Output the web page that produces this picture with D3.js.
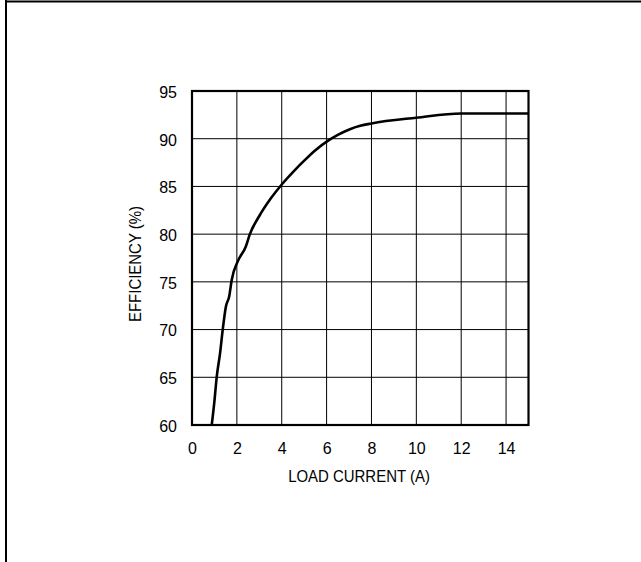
<!DOCTYPE html>
<html>
<head>
<meta charset="utf-8">
<script src="https://cdn.jsdelivr.net/npm/d3@7"></script>
<style>
  html, body { margin: 0; padding: 0; background: #fff; }
  svg { display: block; }
  text { font-family: "Liberation Sans", Arial, sans-serif; fill: #000; }
</style>
</head>
<body>
<svg id="chart" width="641" height="562"></svg>
<script>
// Data
const loadCurrent = [0.88, 1.0, 1.1, 1.25, 1.37, 1.51, 1.66, 1.77, 2.05, 2.4, 2.58, 3.0, 3.5, 4.0, 4.5, 5.0, 5.5, 6.07, 6.5, 7.04, 7.5, 8, 10, 12, 15];
const efficiency  = [60, 62.5, 65, 67.5, 70, 72.4, 73.5, 75.2, 77.2, 78.7, 80, 81.9, 83.7, 85.2, 86.5, 87.7, 88.8, 89.8, 90.4, 91.0, 91.35, 91.6, 92.2, 92.65, 92.65];
const xTicks = [0, 2, 4, 6, 8, 10, 12, 14];
const yTicks = [60, 65, 70, 75, 80, 85, 90, 95];
const xTitle = "LOAD CURRENT (A)";
const yTitle = "EFFICIENCY (%)";

(function () {
const svg = d3.select("#chart");
const pL = 192, pR = 528.5, pT = 91, pB = 425;

const x = d3.scaleLinear().domain([0, 15]).range([pL, pR]);
const y = d3.scaleLinear().domain([60, 95]).range([pB, pT]);

// page frame (top and left edges)
svg.append("line").attr("x1", 5).attr("x2", 641).attr("y1", 1.5).attr("y2", 1.5)
  .attr("stroke", "#000").attr("stroke-width", 2);
svg.append("line").attr("x1", 6).attr("x2", 6).attr("y1", 0).attr("y2", 562)
  .attr("stroke", "#000").attr("stroke-width", 2);

// grid
const g = svg.append("g");
g.selectAll(".vg").data(xTicks.filter(d => d > 0)).join("line")
  .attr("x1", d => x(d)).attr("x2", d => x(d)).attr("y1", pT).attr("y2", pB)
  .attr("stroke", "#000").attr("stroke-width", 1);
g.selectAll(".hg").data(yTicks.filter(d => d > 60 && d < 95)).join("line")
  .attr("x1", pL).attr("x2", pR).attr("y1", d => y(d)).attr("y2", d => y(d))
  .attr("stroke", "#000").attr("stroke-width", 1);

// plot frame
svg.append("rect").attr("x", pL).attr("y", pT).attr("width", pR - pL).attr("height", pB - pT)
  .attr("fill", "none").attr("stroke", "#000").attr("stroke-width", 2.2);

// axes labels via d3 axes (no lines)
const xAxis = svg.append("g").attr("transform", `translate(0,${pB})`)
  .call(d3.axisBottom(x).tickValues(xTicks).tickSize(0).tickPadding(0).tickFormat(d3.format("d")));
xAxis.select(".domain").remove();
xAxis.selectAll("text").attr("dy", null).attr("y", 29).style("font-size", "16px");
xAxis.attr("font-family", null).attr("font-size", null);

const yAxis = svg.append("g").attr("transform", `translate(${pL},0)`)
  .call(d3.axisLeft(y).tickValues(yTicks).tickSize(0).tickPadding(0).tickFormat(d3.format("d")));
yAxis.select(".domain").remove();
yAxis.selectAll("text").attr("x", -15).attr("dy", "0.4em").style("font-size", "16px");
yAxis.attr("font-family", null).attr("font-size", null);

// curve
const pts = loadCurrent.map((v, i) => [v, efficiency[i]]);
svg.append("path").datum(pts)
  .attr("fill", "none").attr("stroke", "#000").attr("stroke-width", 2.6)
  .attr("stroke-linejoin", "round")
  .attr("d", d3.line().x(d => x(d[0])).y(d => y(d[1])).curve(d3.curveMonotoneX));

// titles
svg.append("text").attr("transform", "translate(359,482) scale(0.88,1)")
  .attr("text-anchor", "middle").style("font-size", "17px").text(xTitle);
svg.append("text").attr("transform", "translate(141,264) rotate(-90) scale(0.88,1)")
  .attr("text-anchor", "middle").style("font-size", "17px").text(yTitle);
})();
</script>
</body>
</html>
